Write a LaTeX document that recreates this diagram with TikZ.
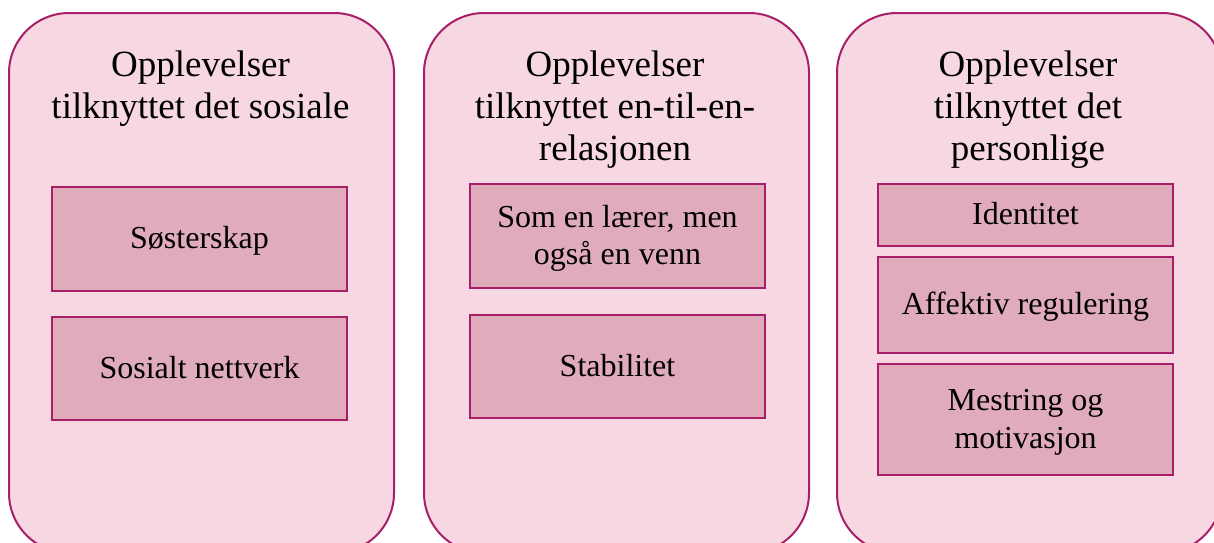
\documentclass[tikz,border=0pt]{standalone}
\usepackage{fontspec}
\setmainfont{Liberation Serif}
\definecolor{panelfill}{RGB}{247,216,226}
\definecolor{itemfill}{RGB}{224,171,187}
\definecolor{edge}{RGB}{168,30,104}
% one line of item text with fixed height (22pt) and depth (2.5pt), so every line sits alike
\newcommand{\itemline}[1]{\rule[-2.5pt]{0pt}{24.5pt}\smash{#1}}
\tikzset{
  panel/.style={draw=edge, line width=2pt, fill=panelfill, rounded corners=60pt,
    anchor=north west, minimum width=385pt, minimum height=540pt, inner sep=0pt},
  paneltitle/.style={anchor=north, align=center, inner sep=0pt,
    font=\fontsize{37}{41.8}\selectfont},
  item/.style={draw=edge, line width=2pt, fill=itemfill, anchor=north west,
    minimum width=295pt, align=center, inner sep=0pt,
    font=\fontsize{32}{37.5}\selectfont},
}
\begin{document}
\begin{tikzpicture}[x=1pt,y=-1pt]
  \useasboundingbox (0,0) rectangle (1214,542);
  \clip (0,0) rectangle (1214,542);
  % three panels
  \node[panel] (p1) at (8,12) {};
  \node[panel] (p2) at (423,12) {};
  \node[panel] (p3) at (836,12) {};
  % panel titles
  \node[paneltitle] (t1) at (200.5,51) {Opplevelser\\tilknyttet det sosiale};
  \node[paneltitle] (t2) at (615,51) {Opplevelser\\tilknyttet en-til-en-\\relasjonen};
  \node[paneltitle] (t3) at (1028,51) {Opplevelser\\tilknyttet det\\personlige};
  % items of the social panel
  \node[item, minimum height=104pt] (a1) at (51,186) {\itemline{Søsterskap}};
  \node[item, minimum height=103pt] (a2) at (51,316) {\itemline{Sosialt nettverk}};
  % items of the one-to-one panel
  \node[item, minimum height=104pt] (b1) at (469,183)
    {\itemline{Som en lærer, men}\\\itemline{også en venn}};
  \node[item, minimum height=103pt] (b2) at (469,314) {\itemline{Stabilitet}};
  % items of the personal panel
  \node[item, minimum height=62pt] (c1) at (877,183) {\itemline{Identitet}};
  \node[item, minimum height=96pt] (c2) at (877,256) {\itemline{Affektiv regulering}};
  \node[item, minimum height=111pt] (c3) at (877,363)
    {\itemline{Mestring og}\\\itemline{motivasjon}};
\end{tikzpicture}
\end{document}
